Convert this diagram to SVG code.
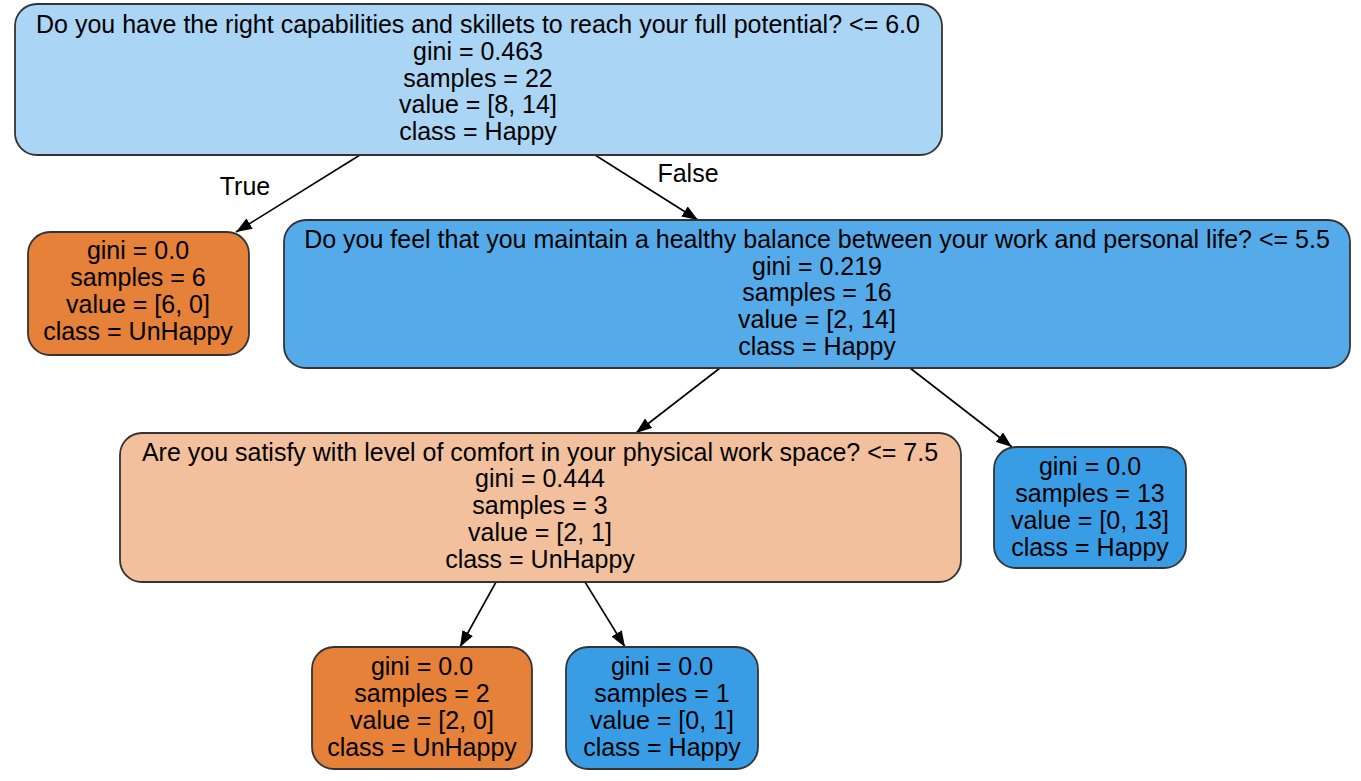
<svg xmlns="http://www.w3.org/2000/svg" width="1361" height="781" viewBox="0 0 1361 781">
<defs>
<marker id="ah" viewBox="0 0 16 12" refX="16" refY="6" markerWidth="16" markerHeight="12" markerUnits="userSpaceOnUse" orient="auto">
<path d="M0,0 L16,6 L0,12 Z" fill="#000"/>
</marker>
</defs>
<style>
.n{stroke:#333;stroke-width:1.8}
.t{font-family:"Liberation Sans",Arial,sans-serif;font-size:25px;fill:#000;text-anchor:middle}
.e{stroke:#000;stroke-width:1.6;fill:none;marker-end:url(#ah)}
</style>
<rect width="1361" height="781" fill="#fff"/>
<g id="edges">
<line class="e" x1="360" y1="155" x2="236" y2="232"/>
<line class="e" x1="595" y1="155" x2="698" y2="220"/>
<line class="e" x1="720" y1="368" x2="636" y2="433"/>
<line class="e" x1="910" y1="368" x2="1012" y2="447"/>
<line class="e" x1="496" y1="582" x2="460" y2="647"/>
<line class="e" x1="585" y1="582" x2="625" y2="647"/>
<text class="t" x="245" y="195">True</text>
<text class="t" x="688" y="182">False</text>
</g>
<g id="node0">
<rect class="n" x="15" y="4" width="927" height="151" rx="22" fill="#aad5f4"/>
<text class="t" x="478" y="33">Do you have the right capabilities and skillets to reach your full potential? &lt;= 6.0</text>
<text class="t" x="478" y="60">gini = 0.463</text>
<text class="t" x="478" y="87">samples = 22</text>
<text class="t" x="478" y="113">value = [8, 14]</text>
<text class="t" x="478" y="140">class = Happy</text>
</g>
<g id="node1">
<rect class="n" x="28" y="232" width="221" height="123" rx="22" fill="#e58139"/>
<text class="t" x="138" y="259">gini = 0.0</text>
<text class="t" x="138" y="286">samples = 6</text>
<text class="t" x="138" y="313">value = [6, 0]</text>
<text class="t" x="138" y="340">class = UnHappy</text>
</g>
<g id="node2">
<rect class="n" x="284" y="220" width="1066" height="148" rx="22" fill="#55abe9"/>
<text class="t" x="817" y="248">Do you feel that you maintain a healthy balance between your work and personal life? &lt;= 5.5</text>
<text class="t" x="817" y="275">gini = 0.219</text>
<text class="t" x="817" y="301">samples = 16</text>
<text class="t" x="817" y="328">value = [2, 14]</text>
<text class="t" x="817" y="355">class = Happy</text>
</g>
<g id="node3">
<rect class="n" x="120" y="433" width="841" height="149" rx="22" fill="#f2c09c"/>
<text class="t" x="540" y="461">Are you satisfy with level of comfort in your physical work space? &lt;= 7.5</text>
<text class="t" x="540" y="487">gini = 0.444</text>
<text class="t" x="540" y="514">samples = 3</text>
<text class="t" x="540" y="541">value = [2, 1]</text>
<text class="t" x="540" y="568">class = UnHappy</text>
</g>
<g id="node4">
<rect class="n" x="994" y="447" width="192" height="121" rx="22" fill="#399de5"/>
<text class="t" x="1090" y="475">gini = 0.0</text>
<text class="t" x="1090" y="502">samples = 13</text>
<text class="t" x="1090" y="529">value = [0, 13]</text>
<text class="t" x="1090" y="556">class = Happy</text>
</g>
<g id="node5">
<rect class="n" x="312" y="647" width="220" height="122" rx="22" fill="#e58139"/>
<text class="t" x="422" y="675">gini = 0.0</text>
<text class="t" x="422" y="702">samples = 2</text>
<text class="t" x="422" y="729">value = [2, 0]</text>
<text class="t" x="422" y="756">class = UnHappy</text>
</g>
<g id="node6">
<rect class="n" x="566" y="647" width="192" height="122" rx="22" fill="#399de5"/>
<text class="t" x="662" y="675">gini = 0.0</text>
<text class="t" x="662" y="702">samples = 1</text>
<text class="t" x="662" y="729">value = [0, 1]</text>
<text class="t" x="662" y="756">class = Happy</text>
</g>
</svg>
